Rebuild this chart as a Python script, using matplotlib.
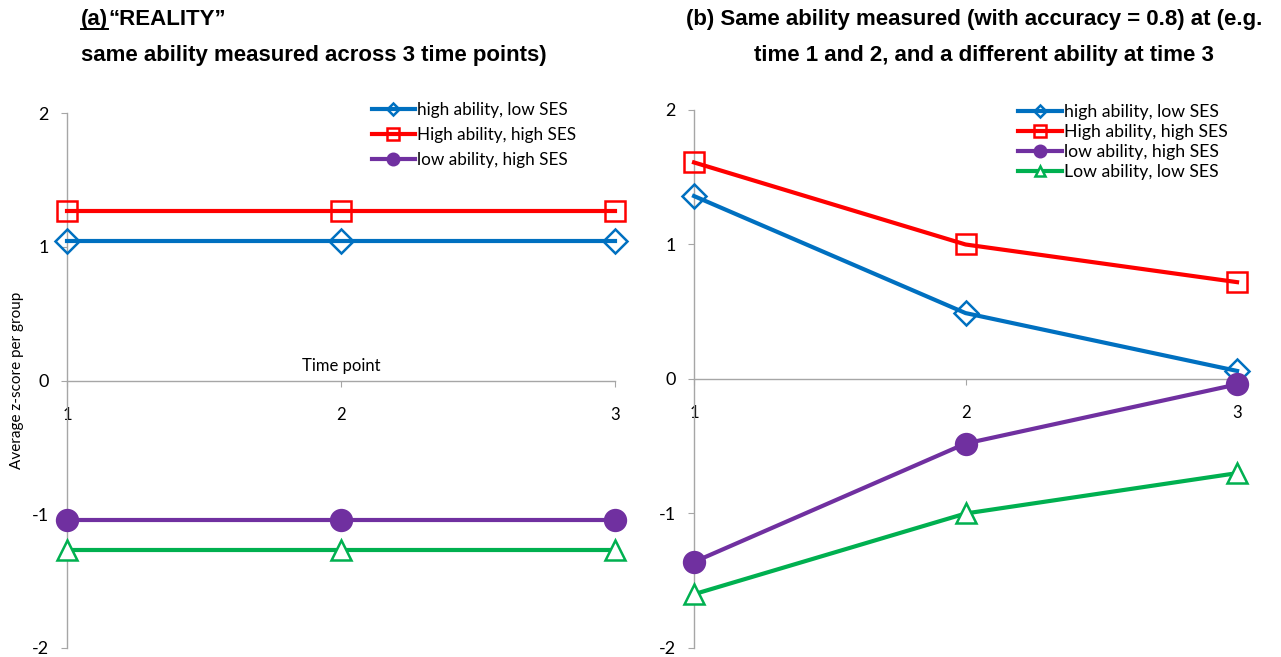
import matplotlib
matplotlib.use('Agg')
import matplotlib.pyplot as plt
from matplotlib.lines import Line2D

plt.rcParams['font.family'] = ['Lato', 'DejaVu Sans']
plt.rcParams['axes.unicode_minus'] = False

time_points = [1, 2, 3]
y_ticks = [-2, -1, 0, 1, 2]

series_labels = ['high ability, low SES', 'High ability, high SES',
                 'low ability, high SES', 'Low ability, low SES']

# panel (a): "reality", flat lines
reality_high_low = [1.04, 1.04, 1.04]
reality_high_high = [1.27, 1.27, 1.27]
reality_low_high = [-1.04, -1.04, -1.04]
reality_low_low = [-1.27, -1.27, -1.27]

# panel (b): accuracy 0.8, different ability at time 3
meas_high_low = [1.36, 0.49, 0.06]
meas_high_high = [1.61, 1.00, 0.72]
meas_low_high = [-1.36, -0.48, -0.04]
meas_low_low = [-1.60, -1.00, -0.70]

STYLES = [
    dict(color='#0070C0', marker='D', markersize=12, markerfacecolor='none'),
    dict(color='#FF0000', marker='s', markersize=15, markerfacecolor='none'),
    dict(color='#7030A0', marker='o', markersize=15, markerfacecolor='#7030A0'),
    dict(color='#00B050', marker='^', markersize=14, markerfacecolor='white'),
]

fig = plt.figure(figsize=(12.81, 6.57), dpi=100)
ax1 = fig.add_axes([0.0523, 0.0137, 0.4278, 0.8143])
ax2 = fig.add_axes([0.5418, 0.0137, 0.4239, 0.8189])


def style_axes(ax):
    ax.set_xlim(1, 3)
    ax.set_ylim(-2, 2)
    ax.set_xticks(time_points)
    ax.set_yticks(y_ticks)
    ax.spines['top'].set_visible(False)
    ax.spines['right'].set_visible(False)
    ax.spines['bottom'].set_position(('data', 0))
    for s in ('left', 'bottom'):
        ax.spines[s].set_color('#a6a6a6')
        ax.spines[s].set_linewidth(1.0)
    ax.tick_params(axis='x', direction='out', length=4, color='#a6a6a6',
                   labelsize=12, pad=15)
    ax.tick_params(axis='y', direction='out', length=4, color='#a6a6a6',
                   labelsize=13, pad=9)


def draw(ax, series):
    handles = []
    for vals, st in zip(series, STYLES):
        ax.plot(time_points, vals, color=st['color'], lw=3, marker=st['marker'],
                markersize=st['markersize'], markerfacecolor=st['markerfacecolor'],
                markeredgecolor=st['color'], markeredgewidth=1.8, clip_on=False, zorder=3)
        handles.append(Line2D([0], [0], color=st['color'], lw=3, marker=st['marker'],
                              markersize=st['markersize'] * 0.55,
                              markerfacecolor=st['markerfacecolor'],
                              markeredgecolor=st['color'], markeredgewidth=1.8))
    return handles


style_axes(ax1)
style_axes(ax2)

h1 = draw(ax1, [reality_high_low, reality_high_high, reality_low_high, reality_low_low])
h2 = draw(ax2, [meas_high_low, meas_high_high, meas_low_high, meas_low_low])

fig.legend(h1[:3], series_labels[:3], loc='upper left', bbox_to_anchor=(0.2905, 0.845),
           frameon=False, fontsize=12.3, handlelength=2.5, handletextpad=0.1,
           labelspacing=0.54, borderaxespad=0, borderpad=0)
fig.legend(h2, series_labels, loc='upper left', bbox_to_anchor=(0.7945, 0.841),
           frameon=False, fontsize=12.7, handlelength=2.5, handletextpad=0.1,
           labelspacing=0.22, borderaxespad=0, borderpad=0)

ax1.set_ylabel('Average z-score per group', fontsize=11)
ax1.yaxis.set_label_coords(-0.078, 0.5)
ax1.text(2, 0.05, 'Time point', ha='center', va='bottom', fontsize=12)

# titles
bold = dict(family=['Liberation Sans', 'DejaVu Sans'], fontweight='bold', fontsize=16)
ta = fig.text(0.0632, 0.9696, '(a)', ha='left', va='center', **bold)
fig.canvas.draw()
bb = ta.get_window_extent().transformed(fig.transFigure.inverted())
fig.text(bb.x1, 0.9696, '\u201cREALITY\u201d', ha='left', va='center', **bold)
fig.text(0.0632, 0.916, 'same ability measured across 3 time points)', ha='left', va='center', **bold)
fig.text(0.7604, 0.9696, '(b) Same ability measured (with accuracy = 0.8) at (e.g.',
         ha='center', va='center', **bold)
fig.text(0.768, 0.916, 'time 1 and 2, and a different ability at time 3',
         ha='center', va='center', **bold)

# underline for "(a)"
fig.add_artist(Line2D([bb.x0, bb.x1], [bb.y0 + 0.003, bb.y0 + 0.003],
                      color='black', lw=1.4, transform=fig.transFigure))

fig.savefig('out.png', dpi=100)
